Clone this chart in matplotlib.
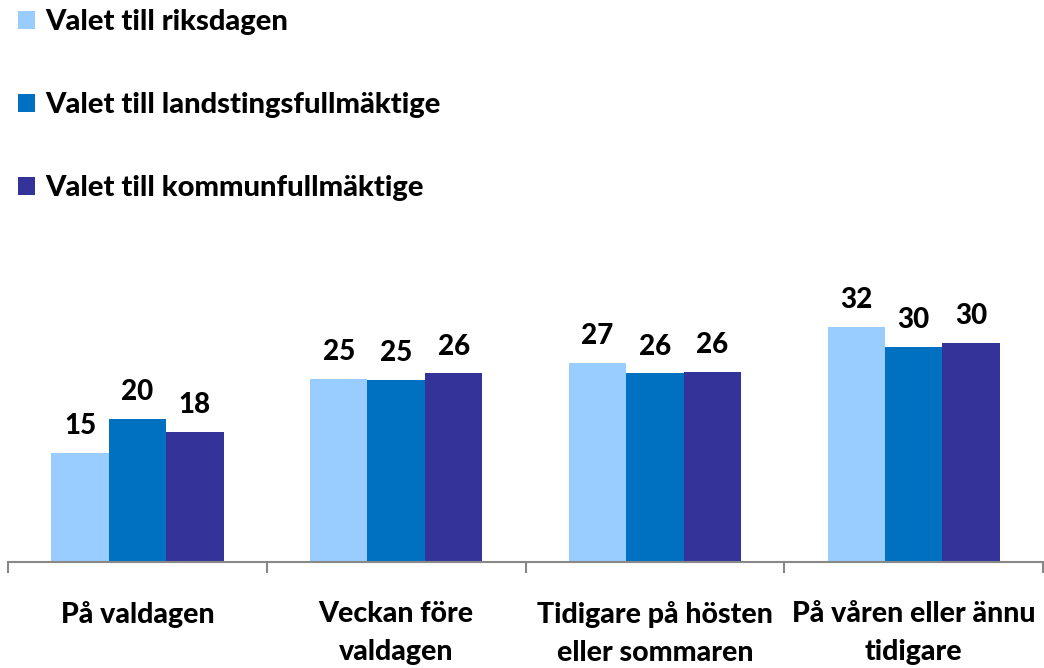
import matplotlib.pyplot as plt
import numpy as np

# data
kategorier = ['På valdagen', 'Veckan före\nvaldagen', 'Tidigare på hösten\neller sommaren', 'På våren eller ännu\ntidigare']
serier = ['Valet till riksdagen', 'Valet till landstingsfullmäktige', 'Valet till kommunfullmäktige']
riksdag = [15.0, 25.1, 27.4, 32.3]
landsting = [19.6, 25.0, 25.9, 29.6]
kommun = [17.9, 25.9, 26.1, 30.1]
farger = ['#99CCFF', '#0070C0', '#333399']

plt.rcParams['font.family'] = ['Lato', 'DejaVu Sans']
vikt = 900

fig = plt.figure(figsize=(10.44, 6.68), dpi=100)
ax = fig.add_axes([0.0077, 0.1587, 0.9914, 0.3814])

x = np.arange(len(kategorier))
bredd = 0.222
for i, (namn, varden) in enumerate(zip(serier, [riksdag, landsting, kommun])):
    pos = x + (i - 1) * bredd
    ax.bar(pos, varden, width=bredd, color=farger[i], label=namn)
    for p, v in zip(pos, varden):
        ax.annotate('%.0f' % v, (p, v), xytext=(0, 10), textcoords='offset points',
                    ha='center', va='bottom', fontsize=20, fontweight=vikt)

ax.set_xlim(-0.5, len(kategorier) - 0.5)
ax.set_ylim(0, 35)
ax.set_yticks([])
for s in ['top', 'right', 'left']:
    ax.spines[s].set_visible(False)
ax.spines['bottom'].set_color('#888888')
ax.spines['bottom'].set_linewidth(1.5)

# ticks at category boundaries, labels in the middle
ax.set_xticks(np.arange(len(kategorier) + 1) - 0.5)
ax.set_xticklabels([])
ax.tick_params(axis='x', length=8, width=1.5, color='#888888', direction='out')
ax.set_xticks(x, minor=True)
ax.set_xticklabels(kategorier, minor=True, fontsize=20.5, fontweight=vikt, linespacing=1.6)
ax.tick_params(axis='x', which='minor', length=0, pad=28)

fig.legend(loc='upper left', bbox_to_anchor=(0.0, 1.012), frameon=False,
           prop={'size': 21, 'weight': vikt}, handlelength=0.6, handleheight=0.6,
           handletextpad=0.35, labelspacing=1.95, borderaxespad=0.2)

fig.savefig('out.png', dpi=100)
